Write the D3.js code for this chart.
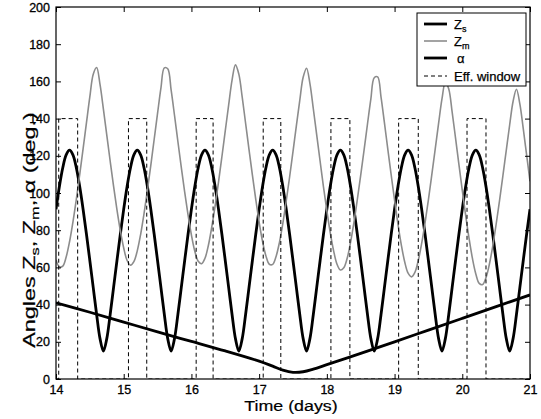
<!DOCTYPE html>
<html><head><meta charset="utf-8">
<script src="https://cdn.jsdelivr.net/npm/d3@7"></script>
<style>html,body{margin:0;padding:0;background:#fff;}svg{display:block;font-family:"Liberation Sans",Arial,Helvetica,sans-serif;}</style>
</head><body>
<svg id="chart" width="541" height="419"></svg>
<script>
// ---- data ----
const tStart = 14, tStep = 0.05;   // sample grid for Zs and Zm (days)
const zsValues = [
 91.3,103.5,113.6,120.5,123.0,120.5,113.6,103.5,91.3,77.8,63.6,49.1,34.7,21.7,15.0,21.7,34.7,49.1,63.6,77.8,
 91.3,103.5,113.6,120.5,123.0,120.5,113.6,103.5,91.3,77.8,63.6,49.1,34.7,21.7,15.0,21.7,34.7,49.1,63.6,77.8,
 91.3,103.5,113.6,120.5,123.0,120.5,113.6,103.5,91.3,77.8,63.6,49.1,34.7,21.7,15.0,21.7,34.7,49.1,63.6,77.8,
 91.3,103.5,113.6,120.5,123.0,120.5,113.6,103.5,91.3,77.8,63.6,49.1,34.7,21.7,15.0,21.7,34.7,49.1,63.6,77.8,
 91.3,103.5,113.6,120.5,123.0,120.5,113.6,103.5,91.3,77.8,63.6,49.1,34.7,21.7,15.0,21.7,34.7,49.1,63.6,77.8,
 91.3,103.5,113.6,120.5,123.0,120.5,113.6,103.5,91.3,77.8,63.6,49.1,34.7,21.7,15.0,21.7,34.7,49.1,63.6,77.8,
 91.3,103.5,113.6,120.5,123.0,120.5,113.6,103.5,91.3,77.8,63.6,49.1,34.7,21.7,15.0,21.7,34.7,49.1,63.6,77.8,
 91.3];
const zmValues = [
 64.1,60.3,60.7,65.6,73.8,84.4,96.6,109.9,123.7,137.8,151.8,163.9,167.5,158.4,145.1,131.1,117.2,103.7,91.1,79.8,
 70.4,63.7,61.2,63.1,68.9,77.8,88.9,101.5,114.9,128.9,142.9,156.5,167.3,166.8,155.4,141.8,127.7,113.9,100.6,88.3,
 77.4,68.7,63.3,62.0,64.9,71.8,81.6,93.1,105.9,119.5,133.5,147.4,160.7,168.9,163.9,151.5,137.5,123.5,109.7,96.6,
 84.4,74.0,66.2,61.7,61.6,65.9,73.5,83.7,95.7,108.6,122.3,136.2,149.8,162.2,167.1,158.8,145.3,131.2,117.2,103.3,
 90.5,78.7,68.9,61.7,58.6,59.8,64.9,73.5,84.2,96.5,109.6,123.2,137.1,150.6,162.0,162.4,151.6,137.8,123.6,109.7,
 96.1,83.3,72.0,62.9,56.9,54.9,57.3,63.7,72.9,84.0,96.5,109.9,123.6,137.4,150.6,159.5,155.9,143.6,129.6,115.4,
 101.4,88.0,75.6,64.8,56.5,51.4,50.8,54.5,61.7,71.5,83.2,95.9,109.3,123.1,136.7,149.2,155.8,147.9,134.7,120.5,
 106.3];
const alphaTimes  = [14.0,14.5,15.0,15.5,16.0,16.5,17.0,17.2,17.35,17.5,17.65,17.8,18.0,18.5,19.0,19.5,20.0,20.5,21.0];
const alphaValues = [41.0,35.9,30.6,25.3,20.2,15.1,9.6,6.9,4.8,3.6,3.9,5.3,7.7,13.8,20.0,26.3,32.6,38.9,45.2];
const winStart = [14.04,15.07,16.07,17.06,18.06,19.06,20.07];
const winEnd   = [14.32,15.34,16.32,17.32,18.34,19.35,20.35];
const winLevel = 140;
const xTicks = [14,15,16,17,18,19,20,21];
const yTicks = [0,20,40,60,80,100,120,140,160,180,200];
const legendItems = ["Zs","Zm","alpha","win"];

// ---- layout ----
const svg = d3.select("#chart");
const L = 56, R = 530, T = 7, B = 379;
const x = d3.scaleLinear().domain([14,21]).range([L,R]);
const y = d3.scaleLinear().domain([0,200]).range([B,T]);

const zsPts = zsValues.map((v,i)=>[tStart+i*tStep, v]);
const zmPts = zmValues.map((v,i)=>[tStart+i*tStep, v]);
const alPts = alphaTimes.map((t,i)=>[t, alphaValues[i]]);
const winPts = [[14,0]];
winStart.forEach((s,i)=>{ winPts.push([s,0],[s,winLevel],[winEnd[i],winLevel],[winEnd[i],0]); });
winPts.push([21,0]);

const line = d3.line().x(d=>x(d[0])).y(d=>y(d[1])).curve(d3.curveCatmullRom.alpha(0.5));
const lineLin = d3.line().x(d=>x(d[0])).y(d=>y(d[1]));

svg.append("defs").append("clipPath").attr("id","clip")
  .append("rect").attr("x",L).attr("y",T).attr("width",R-L).attr("height",B-T);
const g = svg.append("g").attr("clip-path","url(#clip)");

g.append("path").attr("d",line(zsPts)).attr("fill","none").attr("stroke","#000").attr("stroke-width",2.8);
g.append("path").attr("d",line(zmPts)).attr("fill","none").attr("stroke","#8c8c8c").attr("stroke-width",1.6);
g.append("path").attr("d",line(alPts)).attr("fill","none").attr("stroke","#000").attr("stroke-width",2.8);
g.append("path").attr("d",lineLin(winPts)).attr("fill","none").attr("stroke","#000").attr("stroke-width",1).attr("stroke-dasharray","4,3");

// ---- axes box with inward ticks ----
svg.append("rect").attr("x",L).attr("y",T).attr("width",R-L).attr("height",B-T)
  .attr("fill","none").attr("stroke","#000").attr("stroke-width",1.2);
const axB = d3.axisBottom(x).tickValues(xTicks).tickSize(-5).tickPadding(6).tickFormat(d3.format("d"));
const axT = d3.axisTop(x).tickValues(xTicks).tickSize(-5).tickFormat("");
const axL = d3.axisLeft(y).tickValues(yTicks).tickSize(-5).tickPadding(6).tickFormat(d3.format("d"));
const axR = d3.axisRight(y).tickValues(yTicks).tickSize(-5).tickFormat("");
function styleAxis(sel){ sel.select(".domain").remove(); sel.selectAll("line").attr("stroke","#000").attr("stroke-width",1);
  sel.selectAll("text").attr("fill","#000").attr("stroke","#000").attr("stroke-width",0.3)
    .style("font-size","12.5px").style("font-family","Liberation Sans, Arial, sans-serif"); }
svg.append("g").attr("transform",`translate(0,${B})`).call(axB).call(styleAxis);
svg.append("g").attr("transform",`translate(0,${T})`).call(axT).call(styleAxis);
svg.append("g").attr("transform",`translate(${L},0)`).call(axL).call(styleAxis);
svg.append("g").attr("transform",`translate(${R},0)`).call(axR).call(styleAxis);

// ---- axis labels ----
svg.append("text").attr("transform","translate(291,411) scale(1.15,1)").attr("text-anchor","middle")
  .attr("stroke","#000").attr("stroke-width",0.2)
  .style("font-size","15.5px").text("Time (days)");
const yl = svg.append("text").attr("transform","translate(35,230) rotate(-90) scale(1.42,1)").attr("text-anchor","middle")
  .attr("stroke","#000").attr("stroke-width",0.2)
  .style("font-size","16.5px");
yl.append("tspan").text("Angles Z");
yl.append("tspan").attr("dy",4).style("font-size","11.5px").text("s");
yl.append("tspan").attr("dy",-4).text(", Z");
yl.append("tspan").attr("dy",4).style("font-size","11.5px").text("m");
yl.append("tspan").attr("dy",-4).text(", \u03b1 (deg.)");

// ---- legend ----
const lg = svg.append("g");
lg.append("rect").attr("x",417).attr("y",13).attr("width",109).attr("height",73)
  .attr("fill","#fff").attr("stroke","#000").attr("stroke-width",1);
const rowsY = [24,41,58,76];
const styles = [
  {c:"#000",w:2.8,d:null},{c:"#8c8c8c",w:1.6,d:null},{c:"#000",w:2.8,d:null},{c:"#000",w:1,d:"4,3"}];
legendItems.forEach((k,i)=>{
  const s = styles[i];
  const ln = lg.append("line").attr("x1",424).attr("x2",447).attr("y1",rowsY[i]).attr("y2",rowsY[i])
    .attr("stroke",s.c).attr("stroke-width",s.w);
  if (s.d) ln.attr("stroke-dasharray",s.d);
  const tx = lg.append("text").attr("x",454).attr("y",rowsY[i]+4.5).style("font-size","13px")
    .attr("stroke","#000").attr("stroke-width",0.25);
  if (k==="Zs"){ tx.append("tspan").text("Z"); tx.append("tspan").attr("dy",3).style("font-size","9px").text("s"); }
  else if (k==="Zm"){ tx.append("tspan").text("Z"); tx.append("tspan").attr("dy",3).style("font-size","9px").text("m"); }
  else if (k==="alpha"){ tx.attr("x",457).text("\u03b1"); }
  else { tx.text("Eff. window"); }
});
</script>
</body></html>
